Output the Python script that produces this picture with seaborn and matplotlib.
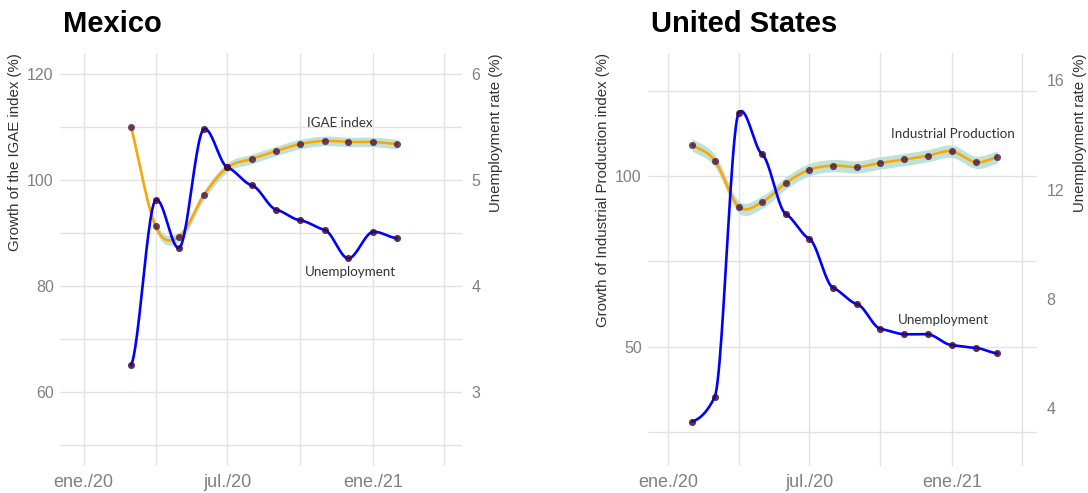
import numpy as np
import pandas as pd
import seaborn as sns
import matplotlib.pyplot as plt
import matplotlib.dates as mdates

# Mexico: IGAE index growth and unemployment rate
mx_months = ["2020-03-01", "2020-04-01", "2020-05-01", "2020-06-01", "2020-07-01", "2020-08-01",
             "2020-09-01", "2020-10-01", "2020-11-01", "2020-12-01", "2021-01-01", "2021-02-01"]
mx_igae = [110.0, 91.3, 89.3, 97.1, 102.4, 104.0, 105.5, 106.8, 107.4, 107.2, 107.2, 106.8]
mx_unemp = [3.25, 4.81, 4.36, 5.48, 5.12, 4.95, 4.72, 4.62, 4.53, 4.26, 4.51, 4.45]

# United States: industrial production growth and unemployment rate
us_months = ["2020-02-01", "2020-03-01", "2020-04-01", "2020-05-01", "2020-06-01", "2020-07-01",
             "2020-08-01", "2020-09-01", "2020-10-01", "2020-11-01", "2020-12-01", "2021-01-01",
             "2021-02-01", "2021-03-01"]
us_ip = [109.1, 104.5, 91.0, 92.3, 97.9, 101.8, 103.0, 102.6, 103.8, 104.8, 105.9, 107.2, 104.0, 105.5]
us_unemp = [3.5, 4.4, 14.8, 13.3, 11.1, 10.2, 8.4, 7.8, 6.9, 6.7, 6.7, 6.3, 6.2, 6.0]

x_major = ["2020-01-01", "2020-07-01", "2021-01-01"]
x_major_labels = ["ene./20", "jul./20", "ene./21"]
x_minor = ["2020-04-01", "2020-10-01", "2021-04-01"]

sns.set_theme(style="white")
plt.rcParams['font.family'] = ['Liberation Sans', 'DejaVu Sans']

GRID = "#e2e2e2"
TICK = "#808080"
LAB = "#333333"
PT = "#3b0a45"


def dnum(lst):
    return mdates.date2num(pd.to_datetime(lst))


def smooth(x, y, k=1.0, n=24):
    # cubic Hermite (Catmull-Rom style) curve through the points, k scales tangents
    x = np.asarray(x, float)
    y = np.asarray(y, float)
    m = np.gradient(y) * k
    t = np.linspace(0, 1, n, endpoint=False)
    h00 = 2 * t**3 - 3 * t**2 + 1
    h10 = t**3 - 2 * t**2 + t
    h01 = -2 * t**3 + 3 * t**2
    h11 = t**3 - t**2
    xs, ys = [], []
    for i in range(len(x) - 1):
        xs.append(x[i] + t * (x[i + 1] - x[i]))
        ys.append(h00 * y[i] + h10 * m[i] + h01 * y[i + 1] + h11 * m[i + 1])
    xs.append([x[-1]])
    ys.append([y[-1]])
    return np.concatenate(xs), np.concatenate(ys)


def panel(ax, months, idx, unemp, factor, band, ylim, xlim, yticks, yminor, rticks,
          ylabel, title, title_x, notes):
    x = dnum(months)
    left_u = np.asarray(unemp) * factor

    xs, ys = smooth(x, idx, 1.0)
    ax.fill_between(xs, ys - band, ys + band, color="#b3ddd1", alpha=0.85, lw=0, zorder=2)
    sns.lineplot(x=xs, y=ys, ax=ax, color="#FFA500", lw=1.8, estimator=None, zorder=3)

    xu, yu = smooth(x, left_u, 0.3)
    sns.lineplot(x=xu, y=yu, ax=ax, color="#0000FF", lw=1.9, estimator=None, zorder=4)

    sns.scatterplot(x=x, y=idx, ax=ax, color=PT, s=26, alpha=0.75, linewidth=0, zorder=5)
    sns.scatterplot(x=x, y=left_u, ax=ax, color=PT, s=26, alpha=0.85, linewidth=0, zorder=5)

    ax.set_xlim(dnum(xlim))
    ax.set_ylim(ylim)
    ax.set_xticks(dnum(x_major))
    ax.set_xticklabels(x_major_labels)
    ax.set_xticks(dnum(x_minor), minor=True)
    ax.set_yticks(yticks)
    ax.set_yticks(yminor, minor=True)
    ax.grid(True, which="both", color=GRID, lw=1.0)
    ax.set_axisbelow(True)
    for s in ax.spines.values():
        s.set_visible(False)
    ax.tick_params(axis="y", which="both", length=0, pad=4.5, labelsize=11.5, labelcolor=TICK)
    ax.tick_params(axis="x", which="both", length=0, pad=5.5, labelsize=13, labelcolor=TICK)
    ax.set_xlabel("")
    ax.set_ylabel(ylabel, loc="top", fontsize=10.8, color=LAB, labelpad=4)

    sec = ax.secondary_yaxis("right", functions=(lambda v: v / factor, lambda v: v * factor))
    sec.set_yticks(rticks)
    sec.tick_params(length=0, pad=7, labelsize=11.5, labelcolor=TICK)
    for s in sec.spines.values():
        s.set_visible(False)
    sec.set_ylabel("Unemployment rate (%)", loc="top", fontsize=10.8, color=LAB, labelpad=6)

    for txt, d, v in notes:
        ax.text(dnum([d])[0], v, txt, ha="center", va="center", fontsize=9.6,
                color="#333333", family=["Lato", "DejaVu Sans"], zorder=6)

    fig.text(title_x / 1088, 1 - 32 / 493, title, fontsize=21, fontweight="bold",
             color="black", va="baseline")


fig = plt.figure(figsize=(10.88, 4.93), dpi=100)
ax1 = fig.add_axes([60 / 1088, 27 / 493, 402 / 1088, 413 / 493])
ax2 = fig.add_axes([648 / 1088, 27 / 493, 389 / 1088, 413 / 493])

panel(ax1, mx_months, mx_igae, mx_unemp, 20, 0.9, (46, 124),
      ["2019-12-02", "2021-04-24"], [60, 80, 100, 120], [50, 70, 90, 110], [3, 4, 5, 6],
      "Growth of the IGAE index (%)", "Mexico", 63,
      [("IGAE index", "2020-11-20", 110.8), ("Unemployment", "2020-12-04", 82.6)])

panel(ax2, us_months, us_ip, us_unemp, 8, 1.8, (15, 136),
      ["2019-12-06", "2021-04-21"], [50, 100], [25, 75, 125], [4, 8, 12, 16],
      "Growth of Industrial Production index (%)", "United States", 651,
      [("Industrial Production", "2021-01-03", 112.3), ("Unemployment", "2020-12-21", 57.7)])

fig.savefig("out.png", dpi=100)
